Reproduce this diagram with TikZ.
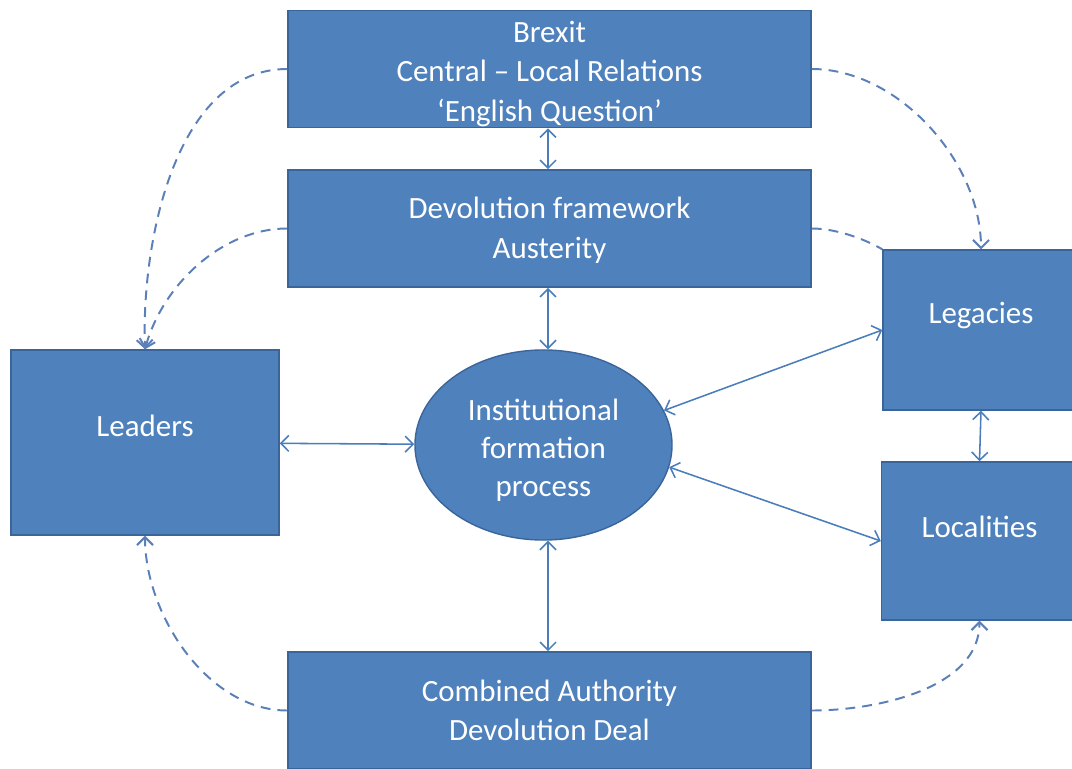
\documentclass[tikz,border=0pt]{standalone}
\usepackage{fontspec}
\setmainfont{Carlito}
\usepackage{tikz}
\usetikzlibrary{arrows.meta, shapes.geometric}
\usepackage{xcolor}
\definecolor{boxfill}{HTML}{4F81BD}
\definecolor{boxline}{HTML}{3A659A}
\definecolor{arrowcol}{HTML}{4A7EBB}
\definecolor{dashcol}{HTML}{5B80B8}

\begin{document}
\begin{tikzpicture}[
    x=0.025cm, y=-0.025cm,
    every node/.style={fill=boxfill, draw=boxline, line width=1pt, text=white, align=center,
        font=\fontsize{22}{28}\selectfont},
    bigbox/.style={rectangle, minimum width=13.075cm, minimum height=2.93cm},
    sidebox/.style={rectangle, minimum width=4.9cm, minimum height=3.98cm},
    link/.style={{Straight Barb[length=2mm,width=4mm]}-{Straight Barb[length=2mm,width=4mm]}, arrowcol, line width=1.1pt},
    dashlink/.style={-{Straight Barb[length=2mm,width=4mm]}, dashcol, line width=1.4pt, dash pattern=on 7pt off 5pt},
    dashplain/.style={dashcol, line width=1.4pt, dash pattern=on 7pt off 5pt}
]
\useasboundingbox (0,0) rectangle (1072,769);

% Nodes
\node[bigbox] (brexit) at (549.5,69) {\raisebox{-0.12cm}[\height][\depth]{\parbox{10cm}{\centering Brexit\\ Central – Local Relations\\ ‘English Question’}}};
\node[bigbox] (devo) at (549.5,228.5) {\raisebox{-0.04cm}[\height][\depth]{\parbox{10cm}{\centering Devolution framework\\ Austerity}}};
\node[bigbox] (combined) at (549.5,710.5) {Combined Authority\\ Devolution Deal};
\node[rectangle, minimum width=6.7cm, minimum height=4.625cm] (leaders) at (145,442.5) {\raisebox{0.85cm}{Leaders}};
\node[ellipse, inner sep=0pt, minimum width=6.425cm, minimum height=4.75cm] (inst) at (543.5,445) {\raisebox{-0.13cm}[\height][\depth]{\parbox{4cm}{\centering\fontsize{22}{27}\selectfont Institutional\\ formation\\ process}}};
\node[sidebox, minimum height=4cm] (legacies) at (981,330) {\raisebox{0.85cm}{Legacies}};
\node[sidebox, minimum height=3.95cm] (localities) at (979.5,541) {\raisebox{0.7cm}{Localities}};

% Arrows
\coordinate (mid) at (548,0);
\draw[link] (brexit.south -| mid) -- (devo.north -| mid);
\draw[link] (devo.south -| mid) -- (inst.north -| mid);
\draw[link] (inst.south -| mid) -- (combined.north -| mid);
\draw[link] (leaders) -- (inst);
\draw[link] (inst.16) -- (legacies.west);
\draw[link] (inst.-10) -- (localities.west);
\draw[link] (legacies.south) -- (localities.north);

% Dashed links
\draw[dashlink] (brexit.west) to[out=180, in=92, looseness=0.9] (leaders.north);
\draw[dashlink] (devo.west) to[out=180, in=75, looseness=0.9] (leaders.north);
\draw[dashlink] (brexit.east) to[out=0, in=90, looseness=0.9] (legacies.north);
\draw[dashplain] (devo.east) to[out=0, in=150, looseness=0.8] (legacies.north west);
\draw[dashlink] (combined.west) to[out=180, in=-90, looseness=0.9] (leaders.south);
\draw[dashlink] (combined.east) to[out=0, in=-90, looseness=0.9] (localities.south);

\end{tikzpicture}
\end{document}
